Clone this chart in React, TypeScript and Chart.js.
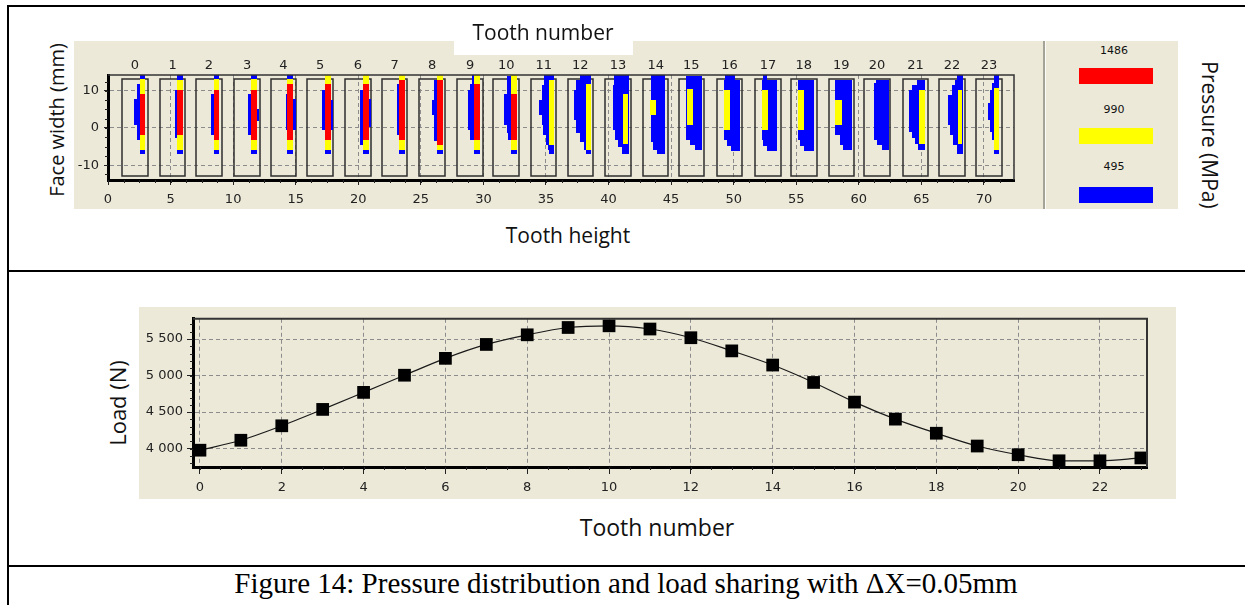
import React, { useEffect, useRef } from "react";
import { Chart, registerables } from "chart.js";

Chart.register(...registerables);

// ---------------- DATA: pressure distribution (top panel) ----------------
const TOOTH_NUMBERS = [0, 1, 2, 3, 4, 5, 6, 7, 8, 9, 10, 11, 12, 13, 14, 15, 16, 17, 18, 19, 20, 21, 22, 23];
// left edge of each tooth outline along the tooth-height axis (mm)
const TOOTH_BOX_LEFT = [1.12, 4.14, 7.03, 10.09, 13.0, 15.93, 18.94, 21.88, 24.88, 27.92, 30.8, 33.79, 36.72, 39.73, 42.74, 45.59, 48.65, 51.71, 54.57, 57.58, 60.43, 63.5, 66.43, 69.38];
const TOOTH_BOX_WIDTH = 2.05;
const TOOTH_BOX_FACE = [-12.9, 13.2];

const HEIGHT_RANGE = [0, 72.4];
const FACE_RANGE = [-14, 14.25];
const HEIGHT_TICKS = [0, 5, 10, 15, 20, 25, 30, 35, 40, 45, 50, 55, 60, 65, 70];
const FACE_TICKS = [-10, 0, 10];

// contact zones: [tooth, dx0, dx1, faceTop, faceBottom]  (dx relative to tooth outline left, mm)
const BLUE_ZONES = [
  [0, 1.41, 1.81, 14.25, 13.17], [0, 1.41, 1.81, -5.91, -6.99], [0, 1.17, 1.41, 11.83, -3.23], [0, 0.96, 1.17, 7.71, 0.81],
  [1, 1.41, 1.87, 14.25, 12.9], [1, 1.41, 1.87, -5.91, -6.99], [1, 1.2, 1.41, 10.2, -2.78],
  [2, 1.44, 1.87, 14.25, 13.17], [2, 1.44, 1.87, -5.91, -6.99], [2, 1.2, 1.44, 9.14, -1.88],
  [3, 1.33, 1.79, 14.25, 13.17], [3, 1.33, 1.79, -5.91, -6.99], [3, 1.12, 1.33, 9.14, -1.88], [3, 1.79, 1.97, 5.01, 1.97],
  [4, 1.33, 1.81, 14.25, 13.17], [4, 1.33, 1.81, -5.91, -6.99], [4, 1.23, 1.33, 9.14, -0.54], [4, 1.81, 2.0, 7.71, -0.54],
  [5, 1.41, 1.89, -5.91, -6.99], [5, 1.2, 1.41, 10.2, -0.54], [5, 1.89, 2.03, 7.53, -0.54],
  [6, 1.41, 1.92, -5.91, -6.99], [6, 1.2, 1.41, 10.2, -4.57], [6, 1.92, 2.05, 7.71, 0.36],
  [7, 1.41, 1.87, -5.91, -6.99], [7, 1.25, 1.41, 11.83, -1.88],
  [8, 1.39, 1.87, -5.91, -6.99], [8, 1.2, 1.39, 12.9, -3.41], [8, 0.99, 1.2, 7.53, 3.49],
  [9, 1.33, 1.81, -5.91, -6.99], [9, 1.15, 1.33, 14.25, 11.83], [9, 1.01, 1.33, 11.83, -3.23], [9, 0.88, 1.01, 10.2, -0.54],
  [10, 1.41, 1.87, -5.91, -6.99], [10, 1.07, 1.41, 13.98, -1.43], [10, 0.85, 1.07, 9.05, 0.81], [10, 1.2, 1.41, -1.43, -3.23],
  [11, 1.07, 1.87, 14.25, 11.56], [11, 0.88, 1.87, 11.56, 7.53], [11, 0.69, 1.87, 7.53, 3.49], [11, 0.88, 1.87, 3.49, 0.81],
  [11, 1.01, 1.87, 0.81, -1.88], [11, 1.2, 1.87, -1.88, -4.57], [11, 1.36, 1.87, -4.57, -5.91], [11, 1.47, 1.87, -5.91, -6.99],
  [12, 1.01, 1.87, 14.25, 12.9], [12, 0.69, 1.87, 12.9, 10.2], [12, 0.53, 1.87, 10.2, 2.15], [12, 0.69, 1.87, 2.15, -1.43],
  [12, 1.01, 1.87, -1.43, -3.67], [12, 1.28, 1.87, -3.67, -5.91], [12, 1.49, 1.87, -5.91, -6.99],
  [13, 0.67, 1.87, 14.25, 11.56], [13, 0.61, 1.87, 11.56, -0.54], [13, 0.8, 1.87, -0.54, -3.23], [13, 0.99, 1.87, -3.23, -5.02], [13, 1.33, 1.87, -5.02, -6.99],
  [14, 0.64, 1.79, 14.25, -3.67], [14, 0.85, 1.79, -3.67, -5.91], [14, 1.12, 1.79, -5.91, -6.99],
  [15, 0.61, 1.87, 13.98, -3.23], [15, 0.88, 1.87, -3.23, -4.57], [15, 1.33, 1.87, -4.57, -5.91],
  [16, 0.67, 1.47, 14.25, 12.9], [16, 0.59, 1.87, 12.9, -3.23], [16, 0.85, 1.87, -3.23, -4.84], [16, 1.12, 1.87, -4.84, -6.09],
  [17, 0.61, 0.93, 14.25, 12.9], [17, 0.53, 1.79, 12.9, -3.23], [17, 0.67, 1.79, -3.23, -4.84], [17, 0.93, 1.79, -4.84, -6.09],
  [18, 0.53, 1.81, 12.9, -3.23], [18, 0.75, 1.81, -3.23, -4.84], [18, 1.07, 1.81, -4.84, -6.09],
  [19, 0.53, 1.87, 12.9, -1.88], [19, 0.88, 1.87, -1.88, -4.57], [19, 1.15, 1.87, -4.57, -5.91],
  [20, 0.96, 1.95, 12.9, 12.0], [20, 0.75, 1.95, 12.0, -3.23], [20, 1.01, 1.95, -3.23, -4.57], [20, 1.41, 1.95, -4.57, -5.91],
  [21, 1.17, 1.79, 12.9, 11.56], [21, 0.72, 1.79, 11.56, 10.2], [21, 0.53, 1.79, 10.2, -0.99], [21, 0.72, 1.79, -0.99, -2.78],
  [21, 0.99, 1.79, -2.78, -4.3], [21, 1.25, 1.79, -4.3, -5.91],
  [22, 1.44, 1.87, 14.25, 12.9], [22, 1.25, 1.87, 12.9, 11.56], [22, 0.99, 1.87, 11.56, 8.87], [22, 0.72, 1.87, 8.87, 0.81],
  [22, 0.85, 1.87, 0.81, -1.88], [22, 1.12, 1.87, -1.88, -4.57], [22, 1.44, 1.87, -4.57, -6.99],
  [23, 1.44, 1.79, 14.25, 12.0], [23, 1.25, 1.79, 12.0, 10.2], [23, 1.12, 1.79, 10.2, 6.63], [23, 0.91, 1.79, 6.63, 2.15],
  [23, 1.12, 1.79, 2.15, -0.99], [23, 1.25, 1.79, -0.99, -3.23], [23, 1.39, 1.79, -5.91, -6.99],
];

const YELLOW_ZONES = [
  [0, 1.41, 1.81, 13.17, 9.14], [0, 1.41, 1.81, -1.88, -5.91],
  [1, 1.41, 1.87, 12.9, 10.2], [1, 1.41, 1.87, -1.88, -5.91],
  [2, 1.44, 1.87, 13.17, 10.2], [2, 1.44, 1.87, -3.23, -5.91],
  [3, 1.33, 1.79, 13.17, 10.2], [3, 1.33, 1.79, -3.23, -5.91],
  [4, 1.33, 1.81, 13.17, 11.83], [4, 1.33, 1.81, -3.23, -5.91],
  [5, 1.41, 1.89, 14.25, 11.83], [5, 1.41, 1.89, -3.23, -5.91],
  [6, 1.41, 1.92, 14.25, 11.83], [6, 1.41, 1.92, -3.23, -5.91],
  [7, 1.41, 1.87, 14.25, 12.9], [7, 1.41, 1.87, -3.23, -5.91],
  [8, 1.39, 1.87, 14.25, 12.9], [8, 1.39, 1.87, -4.57, -5.91],
  [9, 1.33, 1.81, 14.25, 11.83], [9, 1.33, 1.81, -3.23, -5.91],
  [10, 1.41, 1.87, 14.25, 9.05], [10, 1.41, 1.87, -3.23, -5.91],
  [11, 1.47, 1.87, 12.9, -4.57],
  [12, 1.49, 1.87, 11.83, -5.91],
  [13, 1.39, 1.81, 9.14, -4.3],
  [14, 0.59, 1.07, 7.53, 3.49],
  [15, 0.67, 1.15, 10.4, 0.81],
  [16, 0.59, 1.07, 10.2, -0.54],
  [17, 0.53, 1.01, 10.2, -0.54],
  [18, 0.53, 1.01, 10.2, -0.54],
  [19, 0.53, 1.07, 7.53, 0.81],
  [21, 1.33, 1.79, 10.2, -4.3],
  [22, 1.47, 1.81, 10.2, -4.3],
  [23, 1.44, 1.79, 10.66, -5.91],
];

const RED_ZONES = [
  [0, 1.41, 1.81, 9.14, -1.88],
  [1, 1.41, 1.87, 10.2, -1.88],
  [2, 1.44, 1.87, 10.2, -3.23],
  [3, 1.33, 1.79, 10.2, -3.23],
  [4, 1.33, 1.81, 11.83, -3.23],
  [5, 1.41, 1.89, 11.83, -3.23],
  [6, 1.41, 1.92, 11.83, -3.23],
  [7, 1.41, 1.87, 12.9, -3.23],
  [8, 1.39, 1.87, 12.9, -4.57],
  [9, 1.33, 1.81, 11.83, -3.23],
  [10, 1.41, 1.87, 9.05, -3.23],
];

const PRESSURE_LEVELS = [1486, 990, 495];
const PRESSURE_COLORS = ["#ff0000", "#ffff00", "#0000ff"];

// ---------------- DATA: load sharing (bottom panel) ----------------
const LOAD_TEETH = [0, 1, 2, 3, 4, 5, 6, 7, 8, 9, 10, 11, 12, 13, 14, 15, 16, 17, 18, 19, 20, 21, 22, 23];
const LOAD_VALUES = [3979, 4115, 4313, 4537, 4770, 5005, 5236, 5426, 5558, 5658, 5681, 5637, 5518, 5338, 5144, 4906, 4637, 4404, 4211, 4036, 3917, 3834, 3834, 3873];
const LOAD_X_RANGE = [-0.17, 23.15];
const LOAD_Y_RANGE = [3749, 5777];
const LOAD_X_TICKS = [0, 2, 4, 6, 8, 10, 12, 14, 16, 18, 20, 22];
const LOAD_Y_TICKS = [4000, 4500, 5000, 5500];

// ---------------- styling ----------------
const BEIGE = "#ece9d8";
const GRID_COLOR = "#8c8c8c";
const TICK_FONT = { family: "'DejaVu Sans', sans-serif", size: 13 };
const LABEL_FONT = "'Open Sans', 'Noto Sans', sans-serif";

function minorTicks(id: string, xStep: number, yStep: number, len: number) {
  return {
    id,
    afterDraw(chart: any) {
      const { ctx, chartArea, scales } = chart;
      const x = scales.x;
      const y = scales.y;
      ctx.save();
      ctx.strokeStyle = "#222";
      ctx.lineWidth = 1;
      ctx.beginPath();
      for (let v = Math.ceil(x.min / xStep) * xStep; v <= x.max + 1e-9; v += xStep) {
        const px = Math.round(x.getPixelForValue(v)) + 0.5;
        ctx.moveTo(px, chartArea.bottom);
        ctx.lineTo(px, chartArea.bottom + len);
      }
      for (let v = Math.ceil(y.min / yStep) * yStep; v <= y.max + 1e-9; v += yStep) {
        const py = Math.round(y.getPixelForValue(v)) + 0.5;
        ctx.moveTo(chartArea.left - len, py);
        ctx.lineTo(chartArea.left, py);
      }
      ctx.stroke();
      ctx.restore();
    },
  };
}

function frame(id: string, color: string, width: number) {
  return {
    id,
    afterDraw(chart: any) {
      const { ctx, chartArea } = chart;
      ctx.save();
      ctx.strokeStyle = color;
      ctx.lineWidth = width;
      ctx.beginPath();
      ctx.moveTo(chartArea.left, chartArea.top);
      ctx.lineTo(chartArea.right, chartArea.top);
      ctx.lineTo(chartArea.right, chartArea.bottom);
      ctx.stroke();
      ctx.restore();
    },
  };
}

const contactPlugin = {
  id: "contactPatches",
  beforeDatasetsDraw(chart: any) {
    const { ctx, scales } = chart;
    const x = scales.x;
    const y = scales.y;
    ctx.save();
    // tooth outlines
    ctx.strokeStyle = "#2e2e2e";
    ctx.lineWidth = 1.5;
    TOOTH_BOX_LEFT.forEach((l) => {
      const x0 = Math.round(x.getPixelForValue(l));
      const x1 = Math.round(x.getPixelForValue(l + TOOTH_BOX_WIDTH));
      const y0 = Math.round(y.getPixelForValue(TOOTH_BOX_FACE[1]));
      const y1 = Math.round(y.getPixelForValue(TOOTH_BOX_FACE[0]));
      ctx.strokeRect(x0, y0, x1 - x0, y1 - y0);
    });
    const fillZones = (zones: number[][], color: string) => {
      ctx.fillStyle = color;
      zones.forEach(([t, dx0, dx1, yt, yb]) => {
        const l = TOOTH_BOX_LEFT[t];
        const px0 = Math.round(x.getPixelForValue(l + dx0));
        const px1 = Math.round(x.getPixelForValue(l + dx1));
        const py0 = Math.round(y.getPixelForValue(yt));
        const py1 = Math.round(y.getPixelForValue(yb));
        ctx.fillRect(px0, py0, px1 - px0, py1 - py0);
      });
    };
    fillZones(BLUE_ZONES, PRESSURE_COLORS[2]);
    fillZones(YELLOW_ZONES, PRESSURE_COLORS[1]);
    fillZones(RED_ZONES, PRESSURE_COLORS[0]);
    ctx.restore();
  },
};

function topConfig(): any {
  return {
    type: "scatter",
    data: { datasets: [] },
    options: {
      animation: false,
      responsive: false,
      events: [],
      layout: { padding: { top: 0, right: 29, bottom: 0, left: 0 } },
      plugins: { legend: { display: false }, tooltip: { enabled: false } },
      scales: {
        x: {
          type: "linear",
          position: "bottom",
          min: HEIGHT_RANGE[0],
          max: HEIGHT_RANGE[1],
          afterBuildTicks: (s: any) => { s.ticks = HEIGHT_TICKS.map((v) => ({ value: v })); },
          afterFit: (s: any) => { s.height = 29; },
          grid: { color: GRID_COLOR, lineWidth: 1, drawTicks: true, tickLength: 5, tickColor: "#222", tickWidth: 1 },
          border: { display: true, color: "#000", width: 3, dash: [4, 3] },
          ticks: { autoSkip: false, maxRotation: 0, padding: 7, color: "#222", font: TICK_FONT, callback: (v: any) => String(v) },
        },
        x2: {
          type: "linear",
          position: "top",
          min: HEIGHT_RANGE[0],
          max: HEIGHT_RANGE[1],
          afterBuildTicks: (s: any) => { s.ticks = TOOTH_BOX_LEFT.map((l) => ({ value: l + TOOTH_BOX_WIDTH / 2 })); },
          afterFit: (s: any) => { s.height = 34; },
          grid: { display: false, drawTicks: false },
          border: { display: false },
          ticks: { autoSkip: false, maxRotation: 0, padding: 2, color: "#222", font: TICK_FONT, callback: (_v: any, i: number) => String(TOOTH_NUMBERS[i]) },
        },
        y: {
          type: "linear",
          position: "left",
          min: FACE_RANGE[0],
          max: FACE_RANGE[1],
          afterBuildTicks: (s: any) => { s.ticks = FACE_TICKS.map((v) => ({ value: v })); },
          afterFit: (s: any) => { s.width = 34; },
          grid: { color: GRID_COLOR, lineWidth: 1, drawTicks: true, tickLength: 4, tickColor: "#222", tickWidth: 1 },
          border: { display: true, color: "#000", width: 3, dash: [4, 3] },
          ticks: { padding: 5, color: "#222", font: TICK_FONT, callback: (v: any) => String(v) },
        },
      },
    },
    plugins: [contactPlugin, frame("topFrame", "#333", 1.5), minorTicks("topMinor", 1.25, 2.5, 3)],
  };
}

function formatThousands(v: number) {
  return String(v).replace(/\B(?=(\d{3})+(?!\d))/g, " ");
}

function loadConfig(): any {
  return {
    type: "line",
    data: {
      datasets: [
        {
          data: LOAD_TEETH.map((t, i) => ({ x: t, y: LOAD_VALUES[i] })),
          borderColor: "#1a1a1a",
          borderWidth: 1.2,
          cubicInterpolationMode: "monotone",
          pointStyle: "rect",
          pointRadius: 9,
          pointBackgroundColor: "#000",
          pointBorderColor: "#000",
          pointBorderWidth: 0,
          clip: false,
        },
      ],
    },
    options: {
      animation: false,
      responsive: false,
      events: [],
      layout: { padding: { top: 6, right: 29, bottom: 0, left: 0 } },
      plugins: { legend: { display: false }, tooltip: { enabled: false } },
      scales: {
        x: {
          type: "linear",
          min: LOAD_X_RANGE[0],
          max: LOAD_X_RANGE[1],
          afterBuildTicks: (s: any) => { s.ticks = LOAD_X_TICKS.map((v) => ({ value: v })); },
          afterFit: (s: any) => { s.height = 32; },
          grid: { color: GRID_COLOR, lineWidth: 1, drawTicks: true, tickLength: 7, tickColor: "#222", tickWidth: 1 },
          border: { display: true, color: "#000", width: 3, dash: [4, 3] },
          ticks: { autoSkip: false, maxRotation: 0, padding: 6, color: "#222", font: TICK_FONT, callback: (v: any) => String(v) },
        },
        y: {
          type: "linear",
          min: LOAD_Y_RANGE[0],
          max: LOAD_Y_RANGE[1],
          afterBuildTicks: (s: any) => { s.ticks = LOAD_Y_TICKS.map((v) => ({ value: v })); },
          afterFit: (s: any) => { s.width = 54; },
          grid: { color: GRID_COLOR, lineWidth: 1, drawTicks: true, tickLength: 6, tickColor: "#222", tickWidth: 1 },
          border: { display: true, color: "#000", width: 3, dash: [4, 3] },
          ticks: { padding: 4, color: "#222", font: TICK_FONT, callback: (v: any) => formatThousands(v) },
        },
      },
    },
    plugins: [frame("loadFrame", "#333", 2), minorTicks("loadMinor", 0.5, 100, 3)],
  };
}

const abs = (left: number, top: number, extra: any = {}): any => ({ position: "absolute", left, top, ...extra });
const centered = (cx: number, cy: number, size: number, rotate = 0, family = LABEL_FONT): any => ({
  position: "absolute",
  left: cx,
  top: cy,
  transform: `translate(-50%, -50%) rotate(${rotate}deg)`,
  whiteSpace: "nowrap",
  fontFamily: family,
  fontSize: size,
  lineHeight: 1,
  color: "#111",
});

export default function App() {
  const topRef = useRef<HTMLCanvasElement>(null);
  const loadRef = useRef<HTMLCanvasElement>(null);

  useEffect(() => {
    const top = new Chart(topRef.current as HTMLCanvasElement, topConfig());
    const load = new Chart(loadRef.current as HTMLCanvasElement, loadConfig());
    return () => {
      top.destroy();
      load.destroy();
    };
  }, []);

  const legendY = [50, 109, 166];
  const barY = [68, 128, 187];

  return (
    <div style={abs(0, 0, { width: 1245, height: 605, overflow: "hidden", background: "#fff" })}>
      {/* table lines */}
      <div style={abs(7, 5, { width: 1245, height: 2, background: "#000" })} />
      <div style={abs(7, 5, { width: 2, height: 610, background: "#000" })} />
      <div style={abs(7, 270, { width: 1245, height: 2, background: "#000" })} />
      <div style={abs(7, 565, { width: 1245, height: 2, background: "#000" })} />

      {/* top panel */}
      <div style={abs(74, 41, { width: 1104, height: 168, background: BEIGE })} />
      <canvas ref={topRef} width={969} height={168} style={abs(74, 41, { display: "block" })} />
      <div style={abs(1043, 41, { width: 2, height: 168, background: "#a5a398" })} />
      <div style={abs(1045, 41, { width: 1, height: 168, background: "#fbfaf6" })} />
      <div style={abs(454, 41, { width: 179, height: 14, background: "#fff" })} />
      <div style={centered(543, 32, 21)}>Tooth number</div>
      <div style={centered(57, 120, 20, -90)}>Face width (mm)</div>
      <div style={centered(568, 235, 21)}>Tooth height</div>
      <div style={centered(1209, 135, 21, 90)}>Pressure (MPa)</div>
      {PRESSURE_LEVELS.map((lv, i) => (
        <React.Fragment key={lv}>
          <div style={centered(1114, legendY[i], 11, 0, "'DejaVu Sans', sans-serif")}>{String(lv)}</div>
          <div style={abs(1079, barY[i], { width: 74, height: 16, background: PRESSURE_COLORS[i] })} />
        </React.Fragment>
      ))}

      {/* bottom panel */}
      <canvas ref={loadRef} width={1037} height={192} style={abs(139, 307, { display: "block", background: BEIGE })} />
      <div style={centered(117, 403, 22, -90)}>Load (N)</div>
      <div style={centered(657, 527, 23)}>Tooth number</div>

      {/* caption */}
      <div style={abs(0, 569, { width: 1252, textAlign: "center", fontFamily: "'Liberation Serif', 'Times New Roman', serif", fontSize: 29, lineHeight: 1, color: "#000", whiteSpace: "nowrap" })}>
        Figure 14: Pressure distribution and load sharing with ΔX=0.05mm
      </div>
    </div>
  );
}
